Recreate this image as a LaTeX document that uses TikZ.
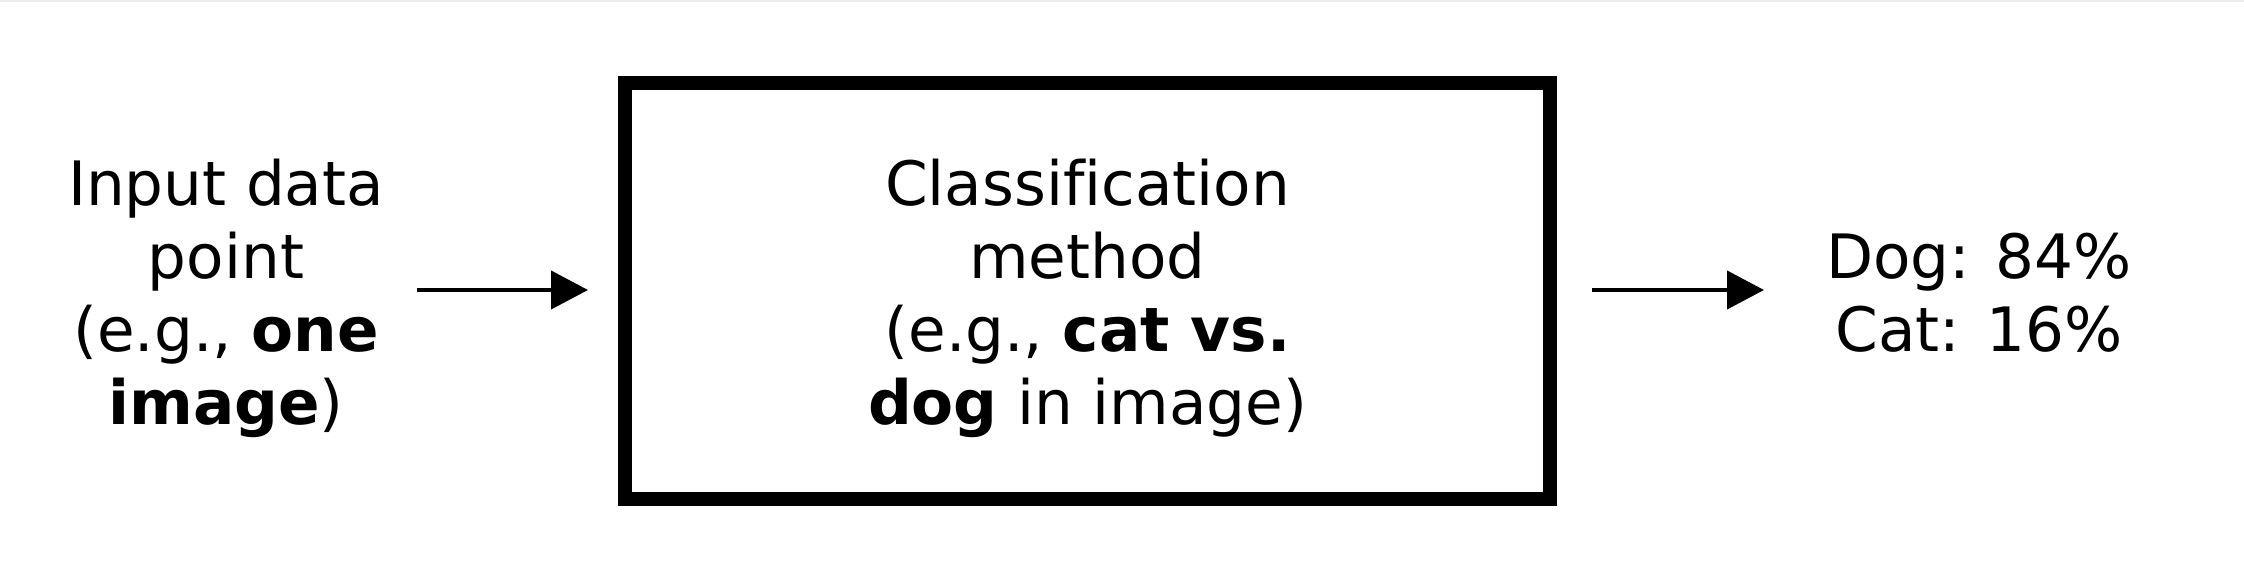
\documentclass[tikz,border=0pt]{standalone}
\usepackage{fontspec}
\setmainfont[Ligatures=NoCommon]{DejaVu Sans}
\usetikzlibrary{arrows.meta}
\tikzset{
  lbl/.style={align=center, inner sep=0pt, font=\fontsize{17.4}{20.8}\selectfont},
  flow/.style={line width=1.15pt, -{Triangle[length=10.5pt,width=10.8pt]}},
  mainbox/.style={draw, line width=3.9pt, minimum width=9.24cm, minimum height=4.16cm, inner sep=0pt}
}
\begin{document}
\begin{tikzpicture}[x=0.01cm,y=-0.01cm]
\useasboundingbox[fill=white] (0,0) rectangle (2244,562);
\fill[black!7] (0,0) rectangle (2244,2);
\node[lbl] (input) at (226,298.5) {Input data\\point\\(e.g., \textbf{one}\\\textbf{image})};
\node[mainbox] (box) at (1087.5,291) {};
\node[lbl] (method) at (1087.5,298.5) {Classification\\method\\(e.g., \textbf{cat vs.}\\\textbf{dog} in image)};
\node[lbl] (output) at (1979,292.5) {Dog: 84\%\\Cat: 16\%};
\coordinate (a1s) at (417,290);
\coordinate (a1e) at (588,290);
\coordinate (a2s) at (1592,290);
\coordinate (a2e) at (1764,290);
\draw[flow] (a1s) -- (a1e);
\draw[flow] (a2s) -- (a2e);
\end{tikzpicture}
\end{document}
